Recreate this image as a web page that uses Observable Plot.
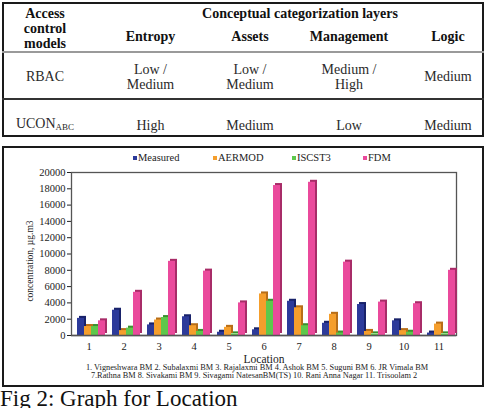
<!DOCTYPE html>
<html>
<head>
<meta charset="utf-8">
<script src="https://cdn.jsdelivr.net/npm/d3@7"></script>
<script src="https://cdn.jsdelivr.net/npm/@observablehq/plot@0.6"></script>
<style>
  html, body { margin: 0; padding: 0; background: #fff; }
  body { width: 486px; height: 408px; position: relative; overflow: hidden; font-family: "Liberation Serif", "Times New Roman", serif; color: #111; }
  .abs { position: absolute; }
  .c { position: absolute; transform: translate(-50%, -50%); white-space: nowrap; text-align: center; }
  .hd { font-weight: bold; font-size: 14px; line-height: 15px; color: #111; }
  .vl { font-size: 14px; line-height: 15.3px; color: #2a2a2a; }
  .lg { position: absolute; font-size: 10.5px; line-height: 12px; white-space: nowrap; color: #222; }
  .sw { position: absolute; width: 4px; height: 4px; }
</style>
</head>
<body>
<!-- Table -->
<div class="abs" style="left:2px;top:2px;width:482px;height:135px;border:2px solid #1a1a1a;box-sizing:border-box;"></div>
<div class="abs" style="left:2px;top:51px;width:482px;height:2px;background:#9a9a9a;"></div>
<div class="abs" style="left:2px;top:98px;width:482px;height:2px;background:#333;"></div>

<div class="c hd" style="left:45px;top:27.5px;">Access<br>control<br>models</div>
<div class="c hd" style="left:300px;top:12.5px;">Conceptual categorization layers</div>
<div class="c hd" style="left:150.5px;top:36px;">Entropy</div>
<div class="c hd" style="left:250px;top:36px;">Assets</div>
<div class="c hd" style="left:349px;top:36px;">Management</div>
<div class="c hd" style="left:448px;top:36px;">Logic</div>

<div class="c vl" style="left:45px;top:77px;">RBAC</div>
<div class="c vl" style="left:150.5px;top:77px;">Low /<br>Medium</div>
<div class="c vl" style="left:250px;top:77px;">Low /<br>Medium</div>
<div class="c vl" style="left:349px;top:77px;">Medium /<br>High</div>
<div class="c vl" style="left:448px;top:77px;">Medium</div>

<div class="c vl" style="left:45px;top:126px;">UCON<sub style="font-size:9px;vertical-align:-2px;">ABC</sub></div>
<div class="c vl" style="left:150.5px;top:126px;">High</div>
<div class="c vl" style="left:250px;top:126px;">Medium</div>
<div class="c vl" style="left:349px;top:126px;">Low</div>
<div class="c vl" style="left:448px;top:126px;">Medium</div>

<!-- Chart frame -->
<div class="abs" style="left:2px;top:146px;width:482px;height:241px;border:2px solid #1a1a1a;box-sizing:border-box;"></div>
<div id="legend"></div>
<div id="chart" class="abs" style="left:0px;top:150px;"></div>
<div class="c" style="left:30px;top:261px;transform:translate(-50%,-50%) rotate(-90deg);font-size:9.5px;color:#222;">concentration, µg.m3</div>
<div class="c" style="left:264px;top:358.5px;font-size:11.5px;line-height:11px;color:#222;">Location</div>
<div id="notes"></div>

<!-- Caption -->
<div class="abs" style="left:0px;top:386.5px;font-size:23px;line-height:23px;white-space:nowrap;color:#111;">Fig 2: Graph for Location</div>

<script>
const locations = ["1","2","3","4","5","6","7","8","9","10","11"];
const seriesNames = ["Measured","AERMOD","ISCST3","FDM"];
const measured = [2100, 3100, 1300, 2300, 400,  700, 4200, 1500, 3800, 1800,  300];
const aermod   = [1100,  600, 1900, 1200, 1000, 5100, 3400, 2600,  500,  600, 1400];
const iscst3   = [1100,  900, 2200,  500,  200, 4200, 1200,  300,  200,  400,  200];
const fdm      = [1800, 5300, 9100, 7900, 4000, 18400, 18800, 9000, 4100, 3900, 8000];
const yTicks = [0,2000,4000,6000,8000,10000,12000,14000,16000,18000,20000];
const locationNotes = [
  "1. Vigneshwara BM 2. Subalaxmi BM 3. Rajalaxmi BM 4. Ashok BM 5. Suguni BM  6. JR Vimala BM",
  "7.Rathna BM  8. Sivakami BM  9. Sivagami NatesanBM(TS)  10. Rani Anna Nagar  11. Trisoolam 2"
];

const colors = ["#2c3a9a", "#f59e2c", "#5ec84c", "#ea4a9c"];
const sideColors = ["#18226a", "#b86e18", "#3a9030", "#a82c68"];
const legendX = [133, 213, 292, 363];

const seriesValues = [measured, aermod, iscst3, fdm];
const data = locations.flatMap((loc, i) =>
  seriesNames.map((s, j) => ({ loc, series: s, value: seriesValues[j][i] })));

// Legend
const lg = document.getElementById("legend");
seriesNames.forEach((s, j) => {
  const sw = document.createElement("div");
  sw.className = "sw";
  sw.style.left = legendX[j] + "px";
  sw.style.top = "156px";
  sw.style.background = colors[j];
  lg.appendChild(sw);
  const t = document.createElement("div");
  t.className = "lg";
  t.style.left = (legendX[j] + 5) + "px";
  t.style.top = "152px";
  t.textContent = s;
  lg.appendChild(t);
});

// Notes
const nt = document.getElementById("notes");
locationNotes.forEach((line, i) => {
  const d = document.createElement("div");
  d.className = "c";
  d.style.left = (i === 0 ? 257 : 254) + "px";
  d.style.top = (i === 0 ? 367.5 : 375.5) + "px";
  d.style.fontSize = "8.3px";
  d.style.lineHeight = "8px";
  d.style.color = "#222";
  d.textContent = line;
  nt.appendChild(d);
});

const band = 35;
const barMarks = [];
seriesNames.forEach((s, j) => {
  const sub = data.filter(d => d.series === s);
  const inL = 6 + 7 * j, inR = band - 6 - 7 * (j + 1);
  barMarks.push(Plot.barY(sub, { x: "loc", y: "value", fill: sideColors[j], insetLeft: inL, insetRight: inR, dx: 2, dy: -2 }));
  barMarks.push(Plot.barY(sub, { x: "loc", y: "value", fill: colors[j], insetLeft: inL, insetRight: inR }));
});

const chart = Plot.plot({
  width: 486,
  height: 210,
  marginLeft: 71,
  marginRight: 30,
  marginTop: 22,
  marginBottom: 25,
  style: { fontFamily: "Liberation Serif, serif", fontSize: "10.5px", background: "transparent", color: "#222" },
  x: { domain: locations, padding: 0, tickSize: 0, tickPadding: 7, label: null },
  y: { domain: [0, 20000], ticks: yTicks, tickFormat: d3.format("d"), tickSize: 4, tickPadding: 2, label: null },
  marks: [
    Plot.frame({ stroke: "#555", strokeWidth: 1.3 }),
    ...barMarks,
    Plot.ruleY([0], { stroke: "#555", strokeWidth: 1.5 })
  ]
});
document.getElementById("chart").appendChild(chart);
</script>
</body>
</html>
